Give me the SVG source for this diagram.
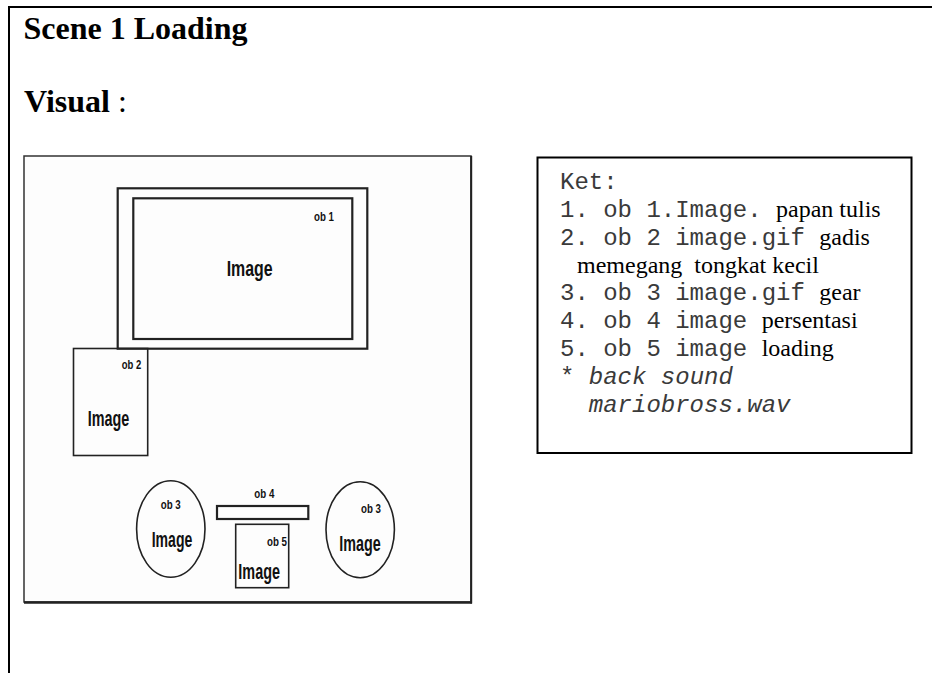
<svg xmlns="http://www.w3.org/2000/svg" width="932" height="673" viewBox="0 0 932 673">
  <style>
    .frame { stroke: #000; stroke-width: 2; fill: none; }
    .title { font-family: "Liberation Serif", "Times New Roman", serif; font-size: 32px; fill: #000; }
    .shape { fill: none; stroke: #222; stroke-width: 1.6; }
    .bold-shape { fill: none; stroke: #222; stroke-width: 2.2; }
    .lbl { font-family: "Liberation Sans", Arial, sans-serif; font-weight: bold; font-size: 12.5px; fill: #111; }
    .img { font-family: "Liberation Sans", Arial, sans-serif; font-weight: bold; font-size: 22px; fill: #111; }
    .mono { font-family: "Liberation Mono", "Courier New", monospace; font-size: 24px; fill: #3a3a3a; white-space: pre; }
    .serif { font-family: "Liberation Serif", "Times New Roman", serif; font-size: 24px; fill: #000; white-space: pre; }
    .it { font-style: italic; }
  </style>

  <!-- page frame: top rule and left rule -->
  <line class="frame" x1="8" y1="7" x2="932" y2="7"/>
  <line class="frame" x1="9" y1="6" x2="9" y2="673"/>

  <!-- headings -->
  <text class="title" x="23.5" y="39" font-weight="bold">Scene 1 Loading</text>
  <text class="title" x="24" y="112"><tspan font-weight="bold">Visual</tspan> :</text>

  <!-- scene layout panel -->
  <g id="scene-panel">
    <rect x="24" y="156" width="447" height="446" fill="#fdfdfd" stroke="#333" stroke-width="1.5"/>
    <line x1="24" y1="602.5" x2="472" y2="602.5" stroke="#222" stroke-width="2.5"/>
    <line x1="471.2" y1="156" x2="471.2" y2="603.5" stroke="#222" stroke-width="2"/>
  </g>

  <g id="ob1">
    <rect class="bold-shape" x="117.7" y="188.3" width="249.6" height="160.4"/>
    <rect class="bold-shape" x="133.3" y="198.3" width="219" height="140.7"/>
    <text class="lbl" x="314" y="221" textLength="20" lengthAdjust="spacingAndGlyphs">ob 1</text>
    <text class="img" x="226.7" y="276" font-size="24" textLength="46" lengthAdjust="spacingAndGlyphs">Image</text>
  </g>

  <g id="ob2">
    <rect class="shape" x="73.5" y="348.5" width="74.2" height="107"/>
    <text class="lbl" x="121.7" y="369" textLength="19.5" lengthAdjust="spacingAndGlyphs">ob 2</text>
    <text class="img" x="87.7" y="426" textLength="41.6" lengthAdjust="spacingAndGlyphs">Image</text>
  </g>

  <g id="ob3-left">
    <ellipse class="shape" cx="170.8" cy="529" rx="34.2" ry="48.3"/>
    <text class="lbl" x="160.7" y="509" textLength="20" lengthAdjust="spacingAndGlyphs">ob 3</text>
    <text class="img" x="151.7" y="547" textLength="40.6" lengthAdjust="spacingAndGlyphs">Image</text>
  </g>

  <g id="ob4">
    <rect class="bold-shape" x="217" y="506" width="91.3" height="13"/>
    <text class="lbl" x="254.3" y="498" textLength="20" lengthAdjust="spacingAndGlyphs">ob 4</text>
  </g>

  <g id="ob5">
    <rect class="shape" x="235.7" y="524.3" width="53" height="63.4"/>
    <text class="lbl" x="267" y="546" textLength="20" lengthAdjust="spacingAndGlyphs">ob 5</text>
    <text class="img" x="238.3" y="579" textLength="41.7" lengthAdjust="spacingAndGlyphs">Image</text>
  </g>

  <g id="ob3-right">
    <ellipse class="shape" cx="360.2" cy="529.7" rx="34.2" ry="48"/>
    <text class="lbl" x="361" y="513" textLength="20" lengthAdjust="spacingAndGlyphs">ob 3</text>
    <text class="img" x="339.3" y="551" textLength="41.4" lengthAdjust="spacingAndGlyphs">Image</text>
  </g>

  <!-- legend box -->
  <g id="legend">
    <rect x="537.5" y="157.5" width="374" height="295.5" fill="#fff" stroke="#000" stroke-width="2"/>
    <text class="mono" x="560" y="189">Ket:</text>
    <text x="560" y="217"><tspan class="mono">1. ob 1.Image. </tspan><tspan class="serif">papan tulis</tspan></text>
    <text x="560" y="244.8"><tspan class="mono">2. ob 2 image.gif </tspan><tspan class="serif">gadis</tspan></text>
    <text class="serif" x="577" y="272.6">memegang  tongkat kecil</text>
    <text x="560" y="300.4"><tspan class="mono">3. ob 3 image.gif </tspan><tspan class="serif">gear</tspan></text>
    <text x="560" y="328.2"><tspan class="mono">4. ob 4 image </tspan><tspan class="serif">persentasi</tspan></text>
    <text x="560" y="356"><tspan class="mono">5. ob 5 image </tspan><tspan class="serif">loading</tspan></text>
    <text class="mono" x="560" y="383.8">* <tspan class="it">back sound</tspan></text>
    <text class="mono it" x="588.8" y="411.6">mariobross.wav</text>
  </g>
</svg>
